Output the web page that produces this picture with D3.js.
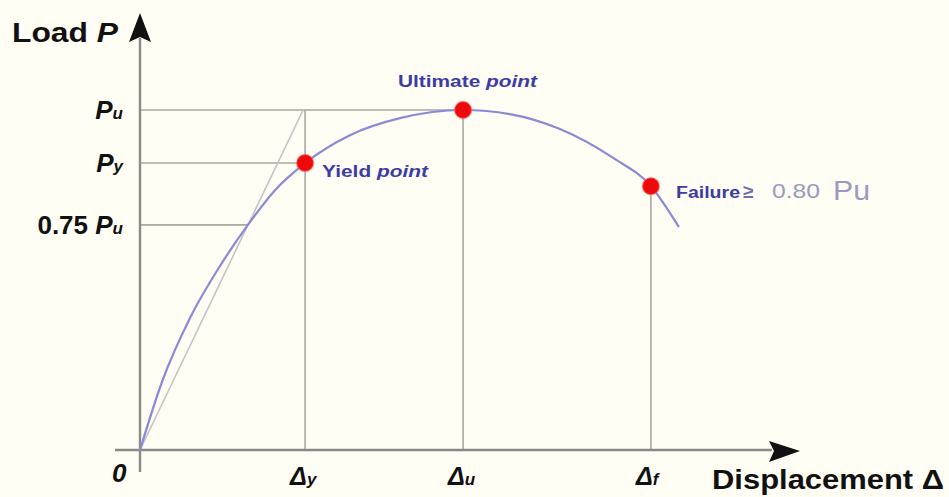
<!DOCTYPE html>
<html>
<head>
<meta charset="utf-8">
<script src="https://cdn.jsdelivr.net/npm/d3@7"></script>
<style>
html,body{margin:0;padding:0;background:#fffdf4;}
svg{display:block;}
text{font-family:"Liberation Sans",Arial,Helvetica,sans-serif;}
</style>
</head>
<body>
<svg id="chart" width="949" height="497"></svg>
<script>
// ---- data (schematic load-displacement curve, arbitrary units) ----
const curveDisp = [0, 3.38, 7.69, 12.3, 16.6, 20.8, 25.4, 32.3, 40.0, 49.7, 56.9, 64.6, 72.8, 78.6, 82.9];
const curveLoad = [0, 20.0, 38.8, 54.1, 66.2, 76.5, 84.4, 92.6, 97.6, 100, 98.8, 94.4, 85.9, 77.6, 65.6];

const pointNames = ["Yield", "Ultimate", "Failure"];
const pointDisp = [25.4, 49.7, 78.6];
const pointLoad = [84.4, 100, 77.6];

const yTickValues = [100, 84.4, 66.2];
const yTickMain = ["P", "P", "0.75 P"];
const yTickSub = ["u", "y", "u"];
const yTickReach = [49.7, 25.4, 16.6];   // how far each horizontal guide runs

const xTickValues = [25.4, 49.7, 78.6];
const xTickSub = ["y", "u", "f"];
const xTickReach = [100, 100, 77.6];     // how high each vertical guide runs

const secantDisp = [0, 25.1];
const secantLoad = [0, 100];

// ---- scales ----
const svg = d3.select("#chart");
const x = d3.scaleLinear().domain([0, 100]).range([140, 790]);
const y = d3.scaleLinear().domain([0, 100]).range([450, 110]);

svg.append("rect").attr("width", 949).attr("height", 497).attr("fill", "#fffdf4");

const gridColor = "#a9a9a4";

// horizontal guides
svg.append("g").selectAll("line").data(yTickValues).join("line")
  .attr("x1", x(0)).attr("x2", (d, i) => x(yTickReach[i]))
  .attr("y1", d => y(d)).attr("y2", d => y(d))
  .attr("stroke", gridColor).attr("stroke-width", 1.6);

// vertical guides
svg.append("g").selectAll("line").data(xTickValues).join("line")
  .attr("x1", d => x(d)).attr("x2", d => x(d))
  .attr("y1", y(0)).attr("y2", (d, i) => y(xTickReach[i]))
  .attr("stroke", gridColor).attr("stroke-width", 1.6);

// secant line
svg.append("line")
  .attr("x1", x(secantDisp[0])).attr("y1", y(secantLoad[0]))
  .attr("x2", x(secantDisp[1])).attr("y2", y(secantLoad[1]))
  .attr("stroke", "#c4c4c8").attr("stroke-width", 1.6);

// axes
const axisColor = "#8a8a86";
svg.append("line").attr("x1", 115).attr("x2", 772).attr("y1", y(0)).attr("y2", y(0))
  .attr("stroke", axisColor).attr("stroke-width", 2.4);
svg.append("line").attr("x1", x(0)).attr("x2", x(0)).attr("y1", 472).attr("y2", 38)
  .attr("stroke", axisColor).attr("stroke-width", 2.4);
// arrowheads
svg.append("path").attr("d", "M769,441 L800,451 L769,462 L774,451 Z").attr("fill", "#111");
svg.append("path").attr("d", "M140,13 L151,42 L140,37 L129,42 Z").attr("fill", "#111");

// curve
const line = d3.line().x(d => x(d[0])).y(d => y(d[1])).curve(d3.curveMonotoneX);
svg.append("path").datum(curveDisp.map((d, i) => [d, curveLoad[i]]))
  .attr("d", line).attr("fill", "none")
  .attr("stroke", "#8a8ad6").attr("stroke-width", 2.2);

// points
svg.append("g").selectAll("circle").data(pointDisp).join("circle")
  .attr("cx", d => x(d)).attr("cy", (d, i) => y(pointLoad[i]))
  .attr("r", 8.5).attr("fill", "#ee0a0a")
  .attr("stroke", "#ff6a6a").attr("stroke-opacity", 0.5).attr("stroke-width", 1.5);

// y tick labels
const yl = svg.append("g").selectAll("text").data(yTickValues).join("text")
  .attr("x", 123).attr("y", d => y(d) + 9)
  .attr("text-anchor", "end").attr("font-weight", "bold").attr("fill", "#111");
yl.each(function(d, i) {
  const t = d3.select(this);
  const main = yTickMain[i];
  if (main.startsWith("0.75")) {
    t.append("tspan").attr("font-size", 26).attr("font-style", "normal").text("0.75 ");
    t.append("tspan").attr("font-size", 26).attr("font-style", "italic").text("P");
  } else {
    t.append("tspan").attr("font-size", 26).attr("font-style", "italic").text(main);
  }
  t.append("tspan").attr("font-size", 17).attr("font-style", "italic").text(yTickSub[i]);
});

// x tick labels
svg.append("text").attr("x", 112).attr("y", 482).attr("font-size", 26)
  .attr("font-weight", "bold").attr("font-style", "italic").attr("fill", "#111").text("0");
const xl = svg.append("g").selectAll("text").data(xTickValues).join("text")
  .attr("x", d => x(d) - 15).attr("y", 485)
  .attr("font-weight", "bold").attr("font-style", "italic").attr("fill", "#111");
xl.each(function(d, i) {
  const t = d3.select(this);
  t.append("tspan").attr("font-size", 25).text("Δ");
  t.append("tspan").attr("font-size", 17).text(xTickSub[i]);
});

// axis titles
const lt = svg.append("text").attr("x", 12).attr("y", 42).attr("font-weight", "bold")
  .attr("font-size", 27).attr("fill", "#111").attr("textLength", 106).attr("lengthAdjust", "spacingAndGlyphs");
lt.append("tspan").text("Load ");
lt.append("tspan").attr("font-style", "italic").text("P");

svg.append("text").attr("x", 712).attr("y", 489).attr("font-weight", "bold")
  .attr("font-size", 27).attr("fill", "#111")
  .attr("textLength", 232).attr("lengthAdjust", "spacingAndGlyphs")
  .text("Displacement Δ");

// annotations
const blue = "#3c3ca6";
const ut = svg.append("text").attr("x", 398).attr("y", 87).attr("font-weight", "bold")
  .attr("font-size", 17).attr("fill", blue).attr("textLength", 139).attr("lengthAdjust", "spacingAndGlyphs");
ut.append("tspan").text(pointNames[1] + " ");
ut.append("tspan").attr("font-style", "italic").text("point");

const yt = svg.append("text").attr("x", 322).attr("y", 177).attr("font-weight", "bold")
  .attr("font-size", 17).attr("fill", blue).attr("textLength", 106).attr("lengthAdjust", "spacingAndGlyphs");
yt.append("tspan").text(pointNames[0] + " ");
yt.append("tspan").attr("font-style", "italic").text("point");

svg.append("text").attr("x", 676).attr("y", 198).attr("font-weight", "bold")
  .attr("font-size", 16).attr("fill", blue).attr("textLength", 64).attr("lengthAdjust", "spacingAndGlyphs")
  .text(pointNames[2]);
svg.append("text").attr("x", 743).attr("y", 198).attr("font-size", 19).attr("font-weight", "bold")
  .attr("fill", "#6f6fa8").text("≥");
svg.append("text").attr("x", 772).attr("y", 198).attr("font-size", 21).attr("fill", "#9a9abf")
  .attr("textLength", 48).attr("lengthAdjust", "spacingAndGlyphs").text("0.80");
svg.append("text").attr("x", 833).attr("y", 200).attr("font-size", 27).attr("fill", "#9a9abf")
  .attr("textLength", 37).attr("lengthAdjust", "spacingAndGlyphs").text("Pu");
</script>
</body>
</html>
